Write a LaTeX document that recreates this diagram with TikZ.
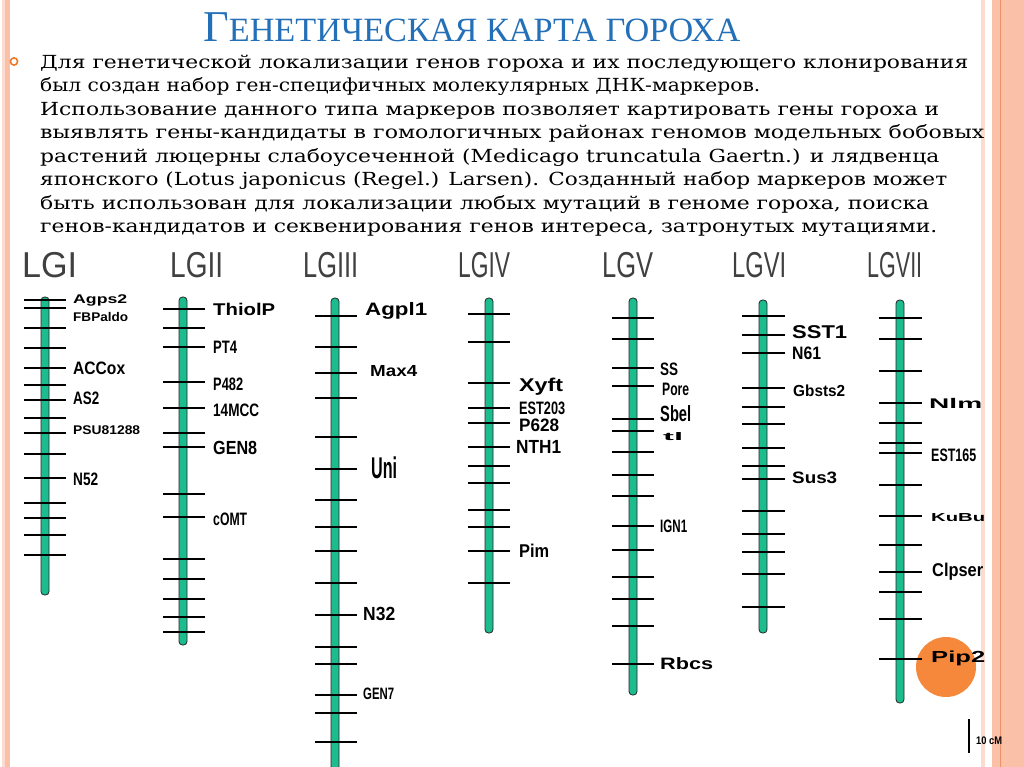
\documentclass[tikz,border=0pt]{standalone}
\usepackage{fontspec}
\usepackage{graphicx}
\setmainfont{DejaVu Serif}
\setsansfont{Liberation Sans}
\newfontfamily\headfont{Liberation Serif}
\definecolor{mapteal}{RGB}{28,188,142}
\definecolor{headblue}{RGB}{36,112,184}
\definecolor{lggray}{RGB}{64,64,64}
\definecolor{edgesalmon}{RGB}{250,192,168}
\definecolor{edgelight}{RGB}{252,220,206}
\definecolor{edgedark}{RGB}{236,146,104}
\definecolor{piporange}{RGB}{246,136,60}
\definecolor{dotorange}{RGB}{240,120,40}
\newcommand{\gl}[3]{\resizebox{#2pt}{\height}{\fontsize{#1pt}{#1pt}\selectfont #3}}

\begin{document}
\begin{tikzpicture}[
    x=1pt, y=-1pt,
    chrom/.style={draw=black!85, line width=0.8pt, fill=mapteal, rounded corners=3.5pt},
    locus/.style={draw=black, line width=2pt},
    gene/.style={anchor=west, inner sep=0pt, font=\sffamily\bfseries, text=black},
    lgname/.style={anchor=west, inner sep=0pt, font=\sffamily, text=lggray},
    bodyline/.style={anchor=base west, inner sep=0pt, font=\fontsize{18pt}{23pt}\selectfont, text=black},
    heading/.style={anchor=base west, inner sep=0pt, font=\headfont, text=headblue}
]
    \useasboundingbox (0,0) rectangle (1024,767);
    \fill[white] (0,0) rectangle (1024,767);

    % slide borders
    \fill[edgelight] (2,0) rectangle (5,767);
    \fill[edgesalmon] (5,0) rectangle (10,767);
    \fill[edgelight] (981,0) rectangle (985,767);
    \fill[edgesalmon] (992,0) rectangle (1024,767);
    \draw[edgedark, line width=1pt] (1000,0) -- (1000,767);

    % heading and text
    \node[heading] (title) at (203,42) {\resizebox{537pt}{\height}{{\fontsize{44pt}{44pt}\selectfont Г}\fontsize{34pt}{34pt}\selectfont ЕНЕТИЧЕСКАЯ КАРТА ГОРОХА}};
    \draw[dotorange, line width=1.6pt] (14,61.5) circle (3.6pt);
    \node[bodyline] (t1) at (40,68.3) {\resizebox{928pt}{\height}{Для генетической локализации генов гороха и их последующего клонирования}};
    \node[bodyline] (t2) at (40,91.8) {\resizebox{720pt}{\height}{был создан набор ген-специфичных молекулярных ДНК-маркеров.}};
    \node[bodyline] (t3) at (40,115.3) {\resizebox{899pt}{\height}{Использование данного типа маркеров позволяет картировать гены гороха и}};
    \node[bodyline] (t4) at (40,138.8) {\resizebox{944pt}{\height}{выявлять гены-кандидаты в гомологичных районах геномов модельных бобовых}};
    \node[bodyline] (t5) at (40,162.3) {\resizebox{899pt}{\height}{растений люцерны слабоусеченной (Medicago truncatula Gaertn.) и лядвенца}};
    \node[bodyline] (t6) at (40,185.8) {\resizebox{907pt}{\height}{японского (Lotus japonicus (Regel.) Larsen). Созданный набор маркеров может}};
    \node[bodyline] (t7) at (40,209.3) {\resizebox{889pt}{\height}{быть использован для локализации любых мутаций в геноме гороха, поиска}};
    \node[bodyline] (t8) at (40,232.8) {\resizebox{897pt}{\height}{генов-кандидатов и секвенирования генов интереса, затронутых мутациями.}};

    % linkage group names
    \node[lgname] (lg1) at (22,265) {\gl{36}{55}{LGI}};
    \node[lgname] (lg2) at (170,265) {\gl{36}{53}{LGII}};
    \node[lgname] (lg3) at (303,265) {\gl{36}{55}{LGIII}};
    \node[lgname] (lg4) at (458,265) {\gl{36}{52}{LGIV}};
    \node[lgname] (lg5) at (602,265) {\gl{36}{51}{LGV}};
    \node[lgname] (lg6) at (732,265) {\gl{36}{54}{LGVI}};
    \node[lgname] (lg7) at (867,265) {\gl{36}{55}{LGVII}};

    % chromosome bars
    \draw[chrom] (41,297) rectangle (49,595);
    \draw[chrom] (179,297) rectangle (187,645);
    \draw[chrom] (331,298) rectangle (339,770);
    \draw[chrom] (485,298) rectangle (493,633);
    \draw[chrom] (629,298) rectangle (637,695);
    \draw[chrom] (759,300) rectangle (767,633);
    \draw[chrom] (896,300) rectangle (904,703);
    \fill[piporange] (946,667) circle (30pt);

    % marker loci
    \foreach \y in {300,307.7,328.3,348.3,368.3,385,400,417.7,433.3,454,478.3,502.7,518.3,535,555}
        \draw[locus] (24,\y) -- (66,\y);
    \foreach \y in {309,328,347,382,408,433,447,494,517,559,579,599,617,632}
        \draw[locus] (163,\y) -- (205,\y);
    \foreach \y in {316,347,373,398,437,469,500,527,551,583,615,647,664,695,713,742}
        \draw[locus] (315,\y) -- (357,\y);
    \foreach \y in {314,342,383,408,423,447,466,483,510,527,551,583}
        \draw[locus] (468,\y) -- (510,\y);
    \foreach \y in {318,339,368,386,419,431,452,475,496,526,550,577,599,626,664}
        \draw[locus] (612,\y) -- (654,\y);
    \foreach \y in {316,335,353,388,407,424,448,466,479,511,534,552,574,607}
        \draw[locus] (742,\y) -- (785,\y);
    \foreach \y in {318,339,371,403,423,443,453,485,516,545,572,592,619,659}
        \draw[locus] (879,\y) -- (922,\y);

    % gene labels
    \node[gene] (agps2) at (73,300) {\gl{12.6}{54}{Agps2}};
    \node[gene] (fbpaldo) at (73,317) {\gl{12.6}{55}{FBPaldo}};
    \node[gene] (accox) at (73,368) {\gl{18}{52}{ACCox}};
    \node[gene] (as2) at (73,398) {\gl{18}{26}{AS2}};
    \node[gene] (psu) at (73,430) {\gl{12.6}{67}{PSU81288}};
    \node[gene] (n52) at (73,479) {\gl{18}{25}{N52}};

    \node[gene] (thiolp) at (213,309) {\gl{17}{62}{ThiolP}};
    \node[gene] (pt4) at (213,347) {\gl{18}{24}{PT4}};
    \node[gene] (p482) at (213,384) {\gl{18}{30}{P482}};
    \node[gene] (mcc) at (213,410) {\gl{18}{46}{14MCC}};
    \node[gene] (gen8) at (213,448) {\gl{19}{44}{GEN8}};
    \node[gene] (comt) at (213,519) {\gl{18}{34}{cOMT}};

    \node[gene] (agpl1) at (365,311) {\gl{18}{62}{Agpl1}};
    \node[gene] (max4) at (370,371) {\gl{16}{47}{Max4}};
    \node[gene] (uni) at (371,468) {\gl{30}{26}{Uni}};
    \node[gene] (n32) at (363,614) {\gl{19}{32}{N32}};
    \node[gene] (gen7) at (363,694) {\gl{16.5}{31}{GEN7}};

    \node[gene] (xyft) at (519,387) {\gl{18.5}{44}{Xyft}};
    \node[gene] (est203) at (519,408) {\gl{18}{46}{EST203}};
    \node[gene] (p628) at (519,425) {\gl{18}{40}{P628}};
    \node[gene] (nth1) at (516,447) {\gl{19}{45}{NTH1}};
    \node[gene] (pim) at (519,551) {\gl{18.5}{30}{Pim}};

    \node[gene] (ss) at (660,369) {\gl{18}{18}{SS}};
    \node[gene] (pore) at (662,389) {\gl{18}{27}{Pore}};
    \node[gene] (sbel) at (660,414) {\gl{22}{31}{Sbel}};
    \node[gene] (tl) at (663,437) {\gl{11}{20}{tl}};
    \node[gene] (ign1) at (660,526) {\gl{18}{27}{IGN1}};
    \node[gene] (rbcs) at (660,664) {\gl{16.5}{53}{Rbcs}};

    \node[gene] (sst1) at (792,332) {\gl{18.5}{55}{SST1}};
    \node[gene] (n61) at (792,353) {\gl{18}{29}{N61}};
    \node[gene] (gbsts2) at (793,391) {\gl{16}{52}{Gbsts2}};
    \node[gene] (sus3) at (792,478) {\gl{16.5}{45}{Sus3}};

    \node[gene] (nlm) at (929,403) {\gl{14}{53}{Nlm}};
    \node[gene] (est165) at (931,455) {\gl{18}{45}{EST165}};
    \node[gene] (kubu) at (931,518) {\gl{11.6}{54}{KuBu}};
    \node[gene] (clpser) at (932,572) {\gl{18.5}{51}{Clpser}};
    \node[gene] (pip2) at (931,658) {\gl{16}{54}{Pip2}};

    % scale bar
    \draw[line width=2pt] (969,719) -- (969,753);
    \node[gene] (scale) at (976,741) {\gl{11}{26}{10 cM}};
\end{tikzpicture}
\end{document}
